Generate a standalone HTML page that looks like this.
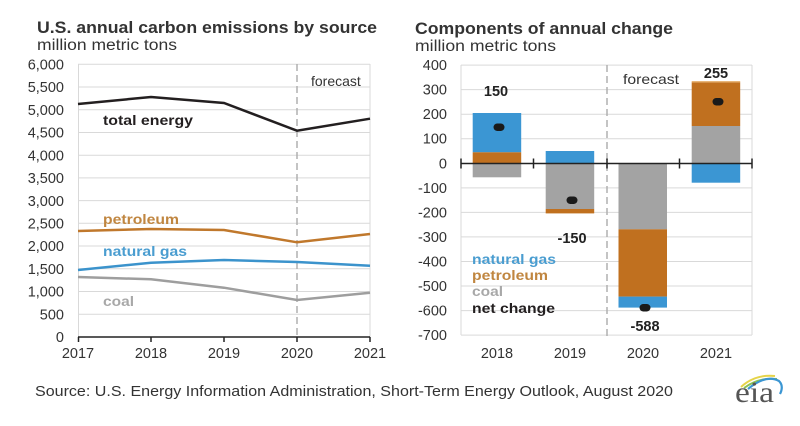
<!DOCTYPE html>
<html><head><meta charset="utf-8"><style>
html,body{margin:0;padding:0;background:#fff;}
svg{display:block;}
text{font-family:"Liberation Sans",Arial,sans-serif;}
</style></head><body>
<svg width="800" height="426" viewBox="0 0 800 426" xmlns="http://www.w3.org/2000/svg">
<rect width="800" height="426" fill="#fff"/>
<!-- Left titles -->
<text x="37" y="33" font-size="17" font-weight="bold" fill="#333" textLength="340" lengthAdjust="spacingAndGlyphs">U.S. annual carbon emissions by source</text>
<text x="37" y="50" font-size="15.5" fill="#333" textLength="140" lengthAdjust="spacingAndGlyphs">million metric tons</text>

<!-- Left gridlines -->
<g stroke="#d9d9d9" stroke-width="1">
<line x1="78" y1="64.3" x2="370" y2="64.3"/>
<line x1="78" y1="87" x2="370" y2="87"/>
<line x1="78" y1="109.7" x2="370" y2="109.7"/>
<line x1="78" y1="132.5" x2="370" y2="132.5"/>
<line x1="78" y1="155.2" x2="370" y2="155.2"/>
<line x1="78" y1="177.9" x2="370" y2="177.9"/>
<line x1="78" y1="200.6" x2="370" y2="200.6"/>
<line x1="78" y1="223.3" x2="370" y2="223.3"/>
<line x1="78" y1="246" x2="370" y2="246"/>
<line x1="78" y1="268.8" x2="370" y2="268.8"/>
<line x1="78" y1="291.5" x2="370" y2="291.5"/>
<line x1="78" y1="314.2" x2="370" y2="314.2"/>
<line x1="78.5" y1="64" x2="78.5" y2="337"/>
<line x1="370" y1="64" x2="370" y2="337"/>
</g>
<!-- forecast dashed -->
<line x1="297" y1="64" x2="297" y2="337" stroke="#b0b0b0" stroke-width="1.5" stroke-dasharray="7,4"/>
<text x="311" y="86" font-size="14" fill="#333">forecast</text>
<!-- Left y labels -->
<g font-size="14.5" fill="#333" text-anchor="end">
<text x="64" y="69.5">6,000</text>
<text x="64" y="92.2">5,500</text>
<text x="64" y="114.9">5,000</text>
<text x="64" y="137.7">4,500</text>
<text x="64" y="160.4">4,000</text>
<text x="64" y="183.1">3,500</text>
<text x="64" y="205.8">3,000</text>
<text x="64" y="228.5">2,500</text>
<text x="64" y="251.2">2,000</text>
<text x="64" y="274">1,500</text>
<text x="64" y="296.7">1,000</text>
<text x="64" y="319.4">500</text>
<text x="64" y="342">0</text>
</g>
<!-- Left x axis -->
<line x1="78" y1="337" x2="370" y2="337" stroke="#222" stroke-width="1.5"/>
<g stroke="#222" stroke-width="1.5">
<line x1="78.5" y1="337" x2="78.5" y2="342"/>
<line x1="151" y1="337" x2="151" y2="342"/>
<line x1="224" y1="337" x2="224" y2="342"/>
<line x1="297" y1="337" x2="297" y2="342"/>
<line x1="370" y1="337" x2="370" y2="342"/>
</g>
<g font-size="14.5" fill="#333" text-anchor="middle">
<text x="78" y="358">2017</text>
<text x="151" y="358">2018</text>
<text x="224" y="358">2019</text>
<text x="297" y="358">2020</text>
<text x="370" y="358">2021</text>
</g>
<!-- Left lines -->
<polyline fill="none" stroke="#231f20" stroke-width="2.5" points="78,104 151,97 224,103 297,130.7 370,118.7"/>
<polyline fill="none" stroke="#c0782c" stroke-width="2.5" points="78,231 151,229 224,230 297,242.3 370,234"/>
<polyline fill="none" stroke="#3b93cc" stroke-width="2.5" points="78,270 151,262.7 224,260 297,262 370,265.7"/>
<polyline fill="none" stroke="#9e9e9e" stroke-width="2.5" points="78,277 151,279.3 224,287.7 297,300 370,292.7"/>
<g font-size="14" font-weight="bold">
<text x="103" y="125" fill="#231f20" textLength="90" lengthAdjust="spacingAndGlyphs">total energy</text>
<text x="103" y="224" fill="#c08640" textLength="76" lengthAdjust="spacingAndGlyphs">petroleum</text>
<text x="103" y="256" fill="#4a9dd0" textLength="84" lengthAdjust="spacingAndGlyphs">natural gas</text>
<text x="103" y="306" fill="#a8a8a8" textLength="31" lengthAdjust="spacingAndGlyphs">coal</text>
</g>

<!-- Right titles -->
<text x="415" y="34" font-size="17" font-weight="bold" fill="#333" textLength="258" lengthAdjust="spacingAndGlyphs">Components of annual change</text>
<text x="415" y="51" font-size="15.5" fill="#333" textLength="141" lengthAdjust="spacingAndGlyphs">million metric tons</text>

<!-- Right gridlines -->
<g stroke="#d9d9d9" stroke-width="1">
<line x1="461" y1="65.1" x2="752" y2="65.1"/>
<line x1="461" y1="89.6" x2="752" y2="89.6"/>
<line x1="461" y1="114.2" x2="752" y2="114.2"/>
<line x1="461" y1="138.7" x2="752" y2="138.7"/>
<line x1="461" y1="187.9" x2="752" y2="187.9"/>
<line x1="461" y1="212.4" x2="752" y2="212.4"/>
<line x1="461" y1="236.9" x2="752" y2="236.9"/>
<line x1="461" y1="261.5" x2="752" y2="261.5"/>
<line x1="461" y1="286" x2="752" y2="286"/>
<line x1="461" y1="310.6" x2="752" y2="310.6"/>
<line x1="461" y1="335.1" x2="752" y2="335.1"/>
<line x1="461" y1="65" x2="461" y2="335"/>
<line x1="752" y1="65" x2="752" y2="335"/>
</g>
<line x1="607" y1="65" x2="607" y2="338" stroke="#b0b0b0" stroke-width="1.5" stroke-dasharray="7,4"/>
<text x="623" y="84" font-size="14" fill="#333" textLength="56" lengthAdjust="spacingAndGlyphs">forecast</text>

<!-- Right y labels -->
<g font-size="14.5" fill="#333" text-anchor="end">
<text x="447" y="70">400</text>
<text x="447" y="94.6">300</text>
<text x="447" y="119.2">200</text>
<text x="447" y="143.7">100</text>
<text x="447" y="168.3">0</text>
<text x="447" y="192.9">-100</text>
<text x="447" y="217.4">-200</text>
<text x="447" y="241.9">-300</text>
<text x="447" y="266.5">-400</text>
<text x="447" y="291">-500</text>
<text x="447" y="315.6">-600</text>
<text x="447" y="340.1">-700</text>
</g>

<!-- Bars -->
<rect x="472.7" y="113" width="48.5" height="39.3" fill="#3b96d3"/>
<rect x="472.7" y="152.3" width="48.5" height="11" fill="#c0701f"/>
<rect x="472.7" y="163.3" width="48.5" height="14" fill="#a3a3a3"/>
<rect x="545.7" y="151" width="48.5" height="12.3" fill="#3b96d3"/>
<rect x="545.7" y="163.3" width="48.5" height="45.7" fill="#a3a3a3"/>
<rect x="545.7" y="209" width="48.5" height="4.4" fill="#c0701f"/>
<rect x="618.5" y="163.3" width="48.5" height="66" fill="#a3a3a3"/>
<rect x="618.5" y="229.3" width="48.5" height="67.3" fill="#c0701f"/>
<rect x="618.5" y="296.6" width="48.5" height="11" fill="#3b96d3"/>
<rect x="691.7" y="126" width="48.5" height="37.3" fill="#a3a3a3"/>
<rect x="691.7" y="82.3" width="48.5" height="43.7" fill="#c0701f"/>
<rect x="691.7" y="81" width="48.5" height="1.5" fill="#e8b67a"/>
<rect x="691.7" y="163.3" width="48.5" height="19.4" fill="#3b96d3"/>

<!-- zero axis -->
<line x1="461" y1="163.5" x2="752" y2="163.5" stroke="#222" stroke-width="1.5"/>
<g stroke="#222" stroke-width="1.5">
<line x1="461" y1="158.5" x2="461" y2="168.5"/>
<line x1="533.5" y1="158.5" x2="533.5" y2="168.5"/>
<line x1="607" y1="158.5" x2="607" y2="168.5"/>
<line x1="679.5" y1="158.5" x2="679.5" y2="168.5"/>
<line x1="752" y1="158.5" x2="752" y2="168.5"/>
</g>

<!-- net dots -->
<g fill="#1a1a1a">
<rect x="493.5" y="123.5" width="11" height="7.5" rx="3.7"/>
<rect x="566.5" y="196.5" width="11" height="7.5" rx="3.7"/>
<rect x="639.5" y="304" width="11" height="7.5" rx="3.7"/>
<rect x="712.5" y="98" width="11" height="7.5" rx="3.7"/>
</g>
<g font-size="14.5" font-weight="bold" fill="#222" text-anchor="middle">
<text x="496" y="96">150</text>
<text x="572" y="243">-150</text>
<text x="645" y="331">-588</text>
<text x="716" y="78">255</text>
</g>

<!-- legend -->
<g font-size="14" font-weight="bold">
<text x="472" y="264" fill="#4a9dd0" textLength="84" lengthAdjust="spacingAndGlyphs">natural gas</text>
<text x="472" y="280" fill="#c08640" textLength="76" lengthAdjust="spacingAndGlyphs">petroleum</text>
<text x="472" y="296" fill="#a8a8a8" textLength="31" lengthAdjust="spacingAndGlyphs">coal</text>
<text x="472" y="313" fill="#231f20" textLength="83" lengthAdjust="spacingAndGlyphs">net change</text>
</g>
<g font-size="14.5" fill="#333" text-anchor="middle">
<text x="497" y="358">2018</text>
<text x="570" y="358">2019</text>
<text x="643" y="358">2020</text>
<text x="716" y="358">2021</text>
</g>

<!-- Source -->
<text x="35" y="396" font-size="14.5" fill="#333" textLength="638" lengthAdjust="spacingAndGlyphs">Source: U.S. Energy Information Administration, Short-Term Energy Outlook, August 2020</text>

<!-- eia logo -->
<path d="M741,387 Q755,374 775,376" fill="none" stroke="#e6d44a" stroke-width="2"/>
<path d="M744,388 Q759,377 777,379" fill="none" stroke="#8cc152" stroke-width="2"/>
<path d="M748,389 Q766,374 779,381 Q784,386 780,394" fill="none" stroke="#3b96d3" stroke-width="2.2"/>
<text x="735" y="402" style="font-family:'Liberation Serif','DejaVu Serif',serif" font-size="30" fill="#555" textLength="39" lengthAdjust="spacingAndGlyphs">eia</text>
</svg>
</body></html>
